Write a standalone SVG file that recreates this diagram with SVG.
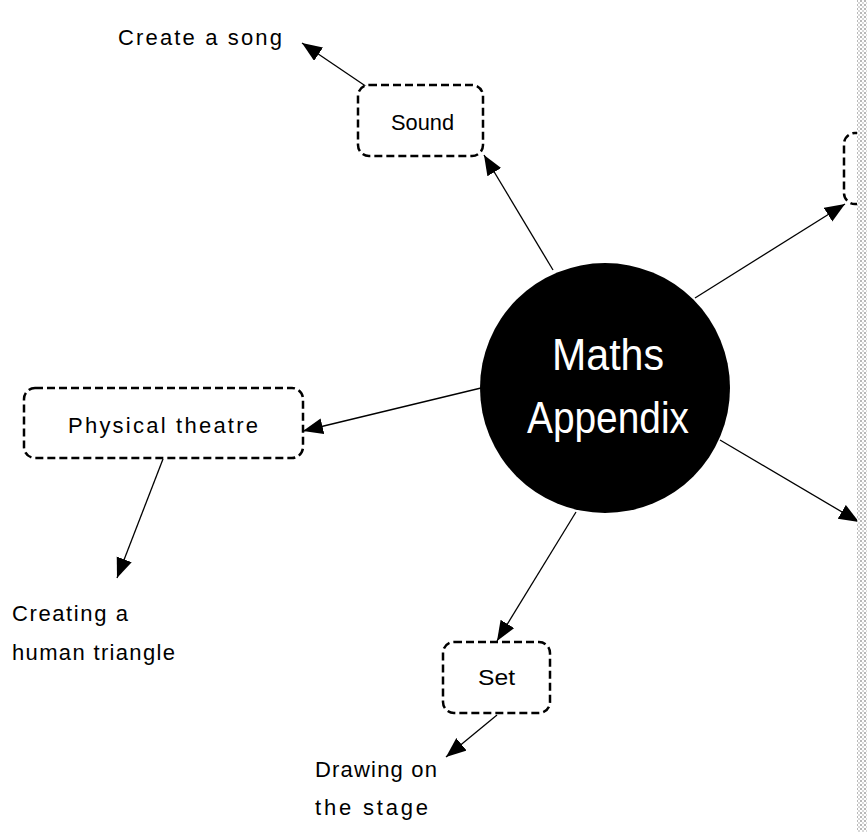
<svg xmlns="http://www.w3.org/2000/svg" width="867" height="832" viewBox="0 0 867 832">
<defs>
<marker id="ah" markerUnits="userSpaceOnUse" markerWidth="22" markerHeight="18" refX="20" refY="8" orient="auto">
<path d="M0,0 L20,8 L0,16 Z" fill="#000"/>
</marker>
<pattern id="dots" width="4" height="4" patternUnits="userSpaceOnUse">
<rect width="4" height="4" fill="#fff"/>
<rect x="0" y="0" width="2" height="2" fill="#b8b8b8"/>
<rect x="2" y="2" width="2" height="2" fill="#d8d8d8"/>
</pattern>
</defs>
<style>
.box{fill:#fff;stroke:#000;stroke-width:2.5;stroke-dasharray:8 4}
.edge{stroke:#000;stroke-width:1.3;fill:none;marker-end:url(#ah)}
.t{font-family:"Liberation Sans","DejaVu Sans",sans-serif;font-size:22px;fill:#000}
.c{font-family:"Liberation Sans","DejaVu Sans",sans-serif;font-size:44px;fill:#fff;text-anchor:middle}
</style>
<rect width="867" height="832" fill="#fff"/>
<g id="connectors">
<line class="edge" x1="553" y1="270" x2="484" y2="155"/>
<line class="edge" x1="367" y1="87" x2="302" y2="43"/>
<line class="edge" x1="481" y1="388" x2="303" y2="431"/>
<line class="edge" x1="163" y1="459" x2="117" y2="578"/>
<line class="edge" x1="576" y1="512" x2="497" y2="641"/>
<line class="edge" x1="497" y1="715" x2="446" y2="757"/>
<line class="edge" x1="695" y1="298" x2="845" y2="204"/>
<line class="edge" x1="720" y1="440" x2="859" y2="522"/>
</g>
<g id="center">
<circle cx="605" cy="388" r="125" fill="#000"/>
<text class="c" x="608" y="370" textLength="112" lengthAdjust="spacingAndGlyphs">Maths</text>
<text class="c" x="608" y="433" textLength="162" lengthAdjust="spacingAndGlyphs">Appendix</text>
</g>
<g id="sound">
<rect class="box" x="358" y="85" width="125" height="71" rx="11"/>
<text class="t" x="391" y="130" textLength="63" lengthAdjust="spacingAndGlyphs">Sound</text>
</g>
<g id="create-song">
<text class="t" x="118" y="45" textLength="164" lengthAdjust="spacing">Create a song</text>
</g>
<g id="physical">
<rect class="box" x="24" y="388" width="279" height="70" rx="11"/>
<text class="t" x="68" y="433" textLength="190" lengthAdjust="spacing">Physical theatre</text>
</g>
<g id="human-triangle">
<text class="t" x="12" y="621" textLength="116" lengthAdjust="spacing">Creating a</text>
<text class="t" x="12" y="660" textLength="163" lengthAdjust="spacing">human triangle</text>
</g>
<g id="set">
<rect class="box" x="443" y="642" width="107" height="71" rx="11"/>
<text class="t" x="478" y="685" textLength="37" lengthAdjust="spacingAndGlyphs">Set</text>
</g>
<g id="drawing">
<text class="t" x="315" y="777" textLength="122" lengthAdjust="spacing">Drawing on</text>
<text class="t" x="315" y="815" textLength="113" lengthAdjust="spacing">the stage</text>
</g>
<g id="right-box">
<rect class="box" x="844" y="133" width="60" height="71" rx="11"/>
</g>
<rect x="857" y="0" width="10" height="832" fill="url(#dots)"/>
</svg>
